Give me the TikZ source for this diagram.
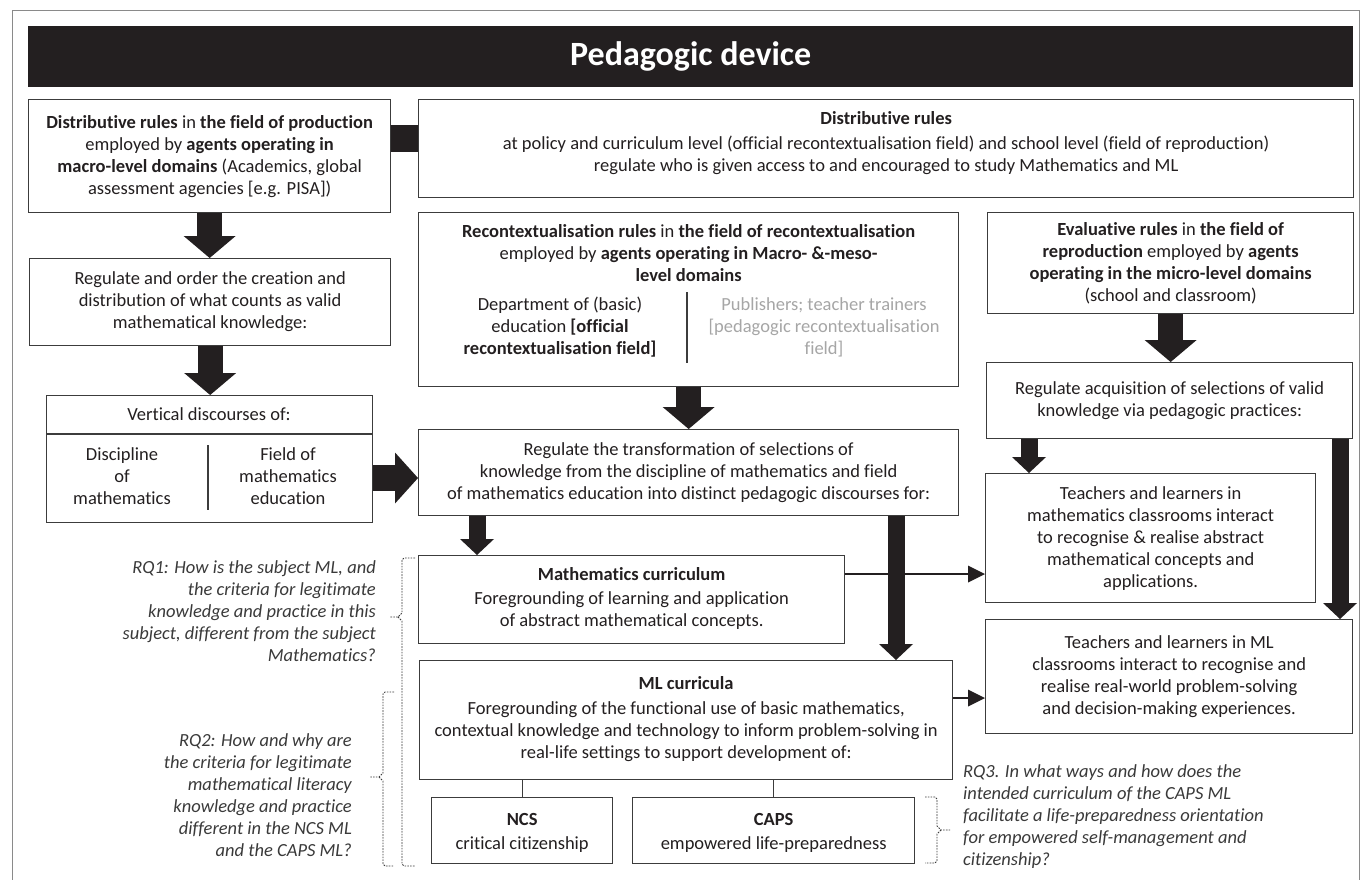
\documentclass[tikz,border=0pt]{standalone}
\usepackage{fontspec}
\setmainfont{Carlito}[Ligatures=CommonOff]
\usetikzlibrary{arrows.meta,calc}
\definecolor{ink}{HTML}{231F20}
\definecolor{boxline}{HTML}{3C3C3C}
\definecolor{greytxt}{HTML}{A6A6A6}
\definecolor{rqtxt}{HTML}{3A3A3A}
\definecolor{framec}{HTML}{8A8A8A}
\newcommand\bodyfs{\fontsize{18.5}{22}\selectfont}
\begin{document}
\begin{tikzpicture}[x=1pt,y=-1pt,
 box/.style={draw=boxline,line width=1.3pt,fill=white,anchor=north west,inner sep=0pt,align=center,font=\bodyfs,text=ink},
 txt/.style={inner sep=0pt,align=center,font=\bodyfs,text=ink},
 rq/.style={inner sep=0pt,font=\bodyfs\itshape,text=rqtxt},
 bigarr/.style={draw=ink,line width=25pt,-{Triangle[length=22pt,width=52pt,line width=0pt]}},
 midarr/.style={draw=ink,line width=17pt,-{Triangle[length=16pt,width=34pt,line width=0pt]}},
 thinarr/.style={draw=ink,line width=1.3pt,-{Triangle[length=17pt,width=17pt,line width=0pt]}},
 brace/.style={draw=rqtxt,line width=0.8pt,dash pattern=on 1.6pt off 1.2pt},
 plain/.style={draw=boxline,line width=1.3pt},
]
\useasboundingbox (0,0) rectangle (1362,879);
\fill[white] (0,0) rectangle (1362,879);
\draw[framec,line width=1pt] (12,895) -- (12,10) -- (1359,10) -- (1359,895);

% header
\node[fill=ink,minimum width=1325pt,minimum height=61pt,anchor=north west,inner sep=0pt] (hdr) at (28,26) {};
\node[font=\fontsize{34}{40}\selectfont\bfseries,text=white,inner sep=0pt] (title) at (hdr.center) {Pedagogic device};

% boxes
\node[box,minimum width=362pt,minimum height=113pt] (A) at (28,99) {\textbf{Distributive rules} in \textbf{the field of production}\\employed by \textbf{agents operating in}\\\textbf{macro-level domains} (Academics, global\\assessment agencies [e.g. PISA])};

\node[box,minimum width=935pt,minimum height=98pt] (B) at (418,99) {};
\node[txt,font=\bodyfs\bfseries] (Bt) at ($(B.north)+(0,19)$) {Distributive rules};
\node[txt] (Bb) at ($(B.north)+(0,56)$) {at policy and curriculum level (official recontextualisation field) and school level (field of reproduction)\\regulate who is given access to and encouraged to study Mathematics and ML};

\node[box,minimum width=361pt,minimum height=87pt] (C) at (29,258) {Regulate and order the creation and\\distribution of what counts as valid\\mathematical knowledge:};

\node[box,minimum width=326pt,minimum height=127pt] (D) at (46,395) {};
\node[txt] (Dt) at (209,414) {Vertical discourses of:};
\coordinate (dsep) at (0,434);
\draw[plain] (D.west |- dsep) -- (D.east |- dsep);
\node[txt] (Dl) at (122,476) {Discipline\\of\\mathematics};
\node[txt] (Dr) at (288,476) {Field of\\mathematics\\education};
\draw[plain] (208,445) -- (208,510);

\node[box,minimum width=540pt,minimum height=174pt] (E) at (418,212) {};
\node[txt] (Et) at ($(E.north)+(0,41)$) {\textbf{Recontextualisation rules} in \textbf{the field of recontextualisation}\\employed by \textbf{agents operating in Macro- \&-meso-}\\\textbf{level domains}};
\node[txt] (El) at (560,327) {Department of (basic)\\education \textbf{[official}\\\textbf{recontextualisation field]}};
\node[txt,text=greytxt] (Er) at (824,327) {Publishers; teacher trainers\\{}[pedagogic recontextualisation\\field]};
\draw[plain] (687,292) -- (687,363);

\node[box,minimum width=366pt,minimum height=101pt] (G) at (987,212) {\textbf{Evaluative rules} in \textbf{the field of}\\\textbf{reproduction} employed by \textbf{agents}\\\textbf{operating in the micro-level domains}\\(school and classroom)};

\node[box,minimum width=540pt,minimum height=86pt] (F) at (418,429) {Regulate the transformation of selections of\\knowledge from the discipline of mathematics and field\\of mathematics education into distinct pedagogic discourses for:};

\node[box,minimum width=366pt,minimum height=76pt] (H) at (986,362) {Regulate acquisition of selections of valid\\knowledge via pedagogic practices:};

\node[box,minimum width=330pt,minimum height=129pt] (I) at (985,473) {Teachers and learners in\\mathematics classrooms interact\\to recognise \& realise abstract\\mathematical concepts and\\applications.};

\node[box,minimum width=367pt,minimum height=114pt] (J) at (985,619) {Teachers and learners in ML\\classrooms interact to recognise and\\realise real-world problem-solving\\and decision-making experiences.};

\node[box,minimum width=426pt,minimum height=88pt] (K) at (418,555) {};
\node[txt,font=\bodyfs\bfseries] (Kt) at ($(K.north)+(0,19)$) {Mathematics curriculum};
\node[txt] (Kb) at ($(K.north)+(0,56)$) {Foregrounding of learning and application\\of abstract mathematical concepts.};

\node[box,minimum width=533pt,minimum height=119pt] (L) at (419,660) {};
\node[txt,font=\bodyfs\bfseries] (Lt) at ($(L.north)+(0,23)$) {ML curricula};
\node[txt] (Lb) at ($(L.north)+(0,72)$) {Foregrounding of the functional use of basic mathematics,\\contextual knowledge and technology to inform problem-solving in\\real-life settings to support development of:};

\node[box,minimum width=181pt,minimum height=66pt] (NCS) at (431,797) {};
\node[txt,font=\bodyfs\bfseries] (NCSt) at ($(NCS.north)+(0,22)$) {NCS};
\node[txt] (NCSb) at ($(NCS.north)+(0,48)$) {critical citizenship};

\node[box,minimum width=282pt,minimum height=66pt] (CAPS) at (632,797) {};
\node[txt,font=\bodyfs\bfseries] (CAPSt) at ($(CAPS.north)+(0,22)$) {CAPS};
\node[txt] (CAPSb) at ($(CAPS.north)+(0,48)$) {empowered life-preparedness};

% connectors
\coordinate (barY) at (0,138.5);
\draw[draw=ink,line width=27pt] (A.east |- barY) -- (B.west |- barY);
\draw[bigarr] (A.south) -- (A.south |- C.north);
\draw[bigarr] (C.south) -- (C.south |- D.north);
\coordinate (dfy) at (0,478);
\draw[draw=ink,line width=26pt,-{Triangle[length=23pt,width=51pt,line width=0pt]}] (D.east |- dfy) -- (F.west |- dfy);
\draw[bigarr] (E.south) -- (E.south |- F.north);
\draw[bigarr] (G.south) -- (G.south |- H.north);
\coordinate (xa) at (477,0);
\draw[midarr] (F.south -| xa) -- (K.north -| xa);
\coordinate (xc) at (1029,0);
\draw[midarr] (H.south -| xc) -- (I.north -| xc);
\coordinate (kiy) at (0,574);
\draw[thinarr] (K.east |- kiy) -- (I.west |- kiy);
\coordinate (ljy) at (0,698);
\draw[thinarr] (L.east |- ljy) -- (J.west |- ljy);
\coordinate (xb) at (896,0);
\draw[midarr] (F.south -| xb) -- (L.north -| xb);
\coordinate (xd) at (1340,0);
\draw[midarr] (H.south -| xd) -- (J.north -| xd);
\draw[plain] (NCS.north) -- (NCS.north |- L.south);
\draw[plain] (CAPS.north) -- (CAPS.north |- L.south);

% research questions
\node[rq,align=right,anchor=east] (rq1) at (376,611) {RQ1: How is the subject ML, and\\the criteria for legitimate\\knowledge and practice in this\\subject, different from the subject\\Mathematics?};
\node[rq,align=right,anchor=east] (rq2) at (352,795) {RQ2: How and why are\\the criteria for legitimate\\mathematical literacy\\knowledge and practice\\different in the NCS ML\\and the CAPS ML?};
\node[rq,align=left,anchor=west] (rq3) at (963,817) {RQ3. In what ways and how does the\\intended curriculum of the CAPS ML\\facilitate a life-preparedness orientation\\for empowered self-management and\\citizenship?};

\draw[brace] (415,558) -- (404,558) -- (402,560) -- (402,613) -- (398,617) -- (390,617) (398,617) -- (402,621) -- (402,864) -- (404,866) -- (415,866);
\draw[brace] (394,692) -- (385,692) -- (383,694) -- (383,773) -- (379,777) -- (370,777) (379,777) -- (383,781) -- (383,864) -- (385,866) -- (394,866);
\draw[brace] (925,797) -- (935,797) -- (937,799) -- (937,826) -- (941,830) -- (950,830) (941,830) -- (937,834) -- (937,861) -- (935,863) -- (925,863);
\end{tikzpicture}
\end{document}
